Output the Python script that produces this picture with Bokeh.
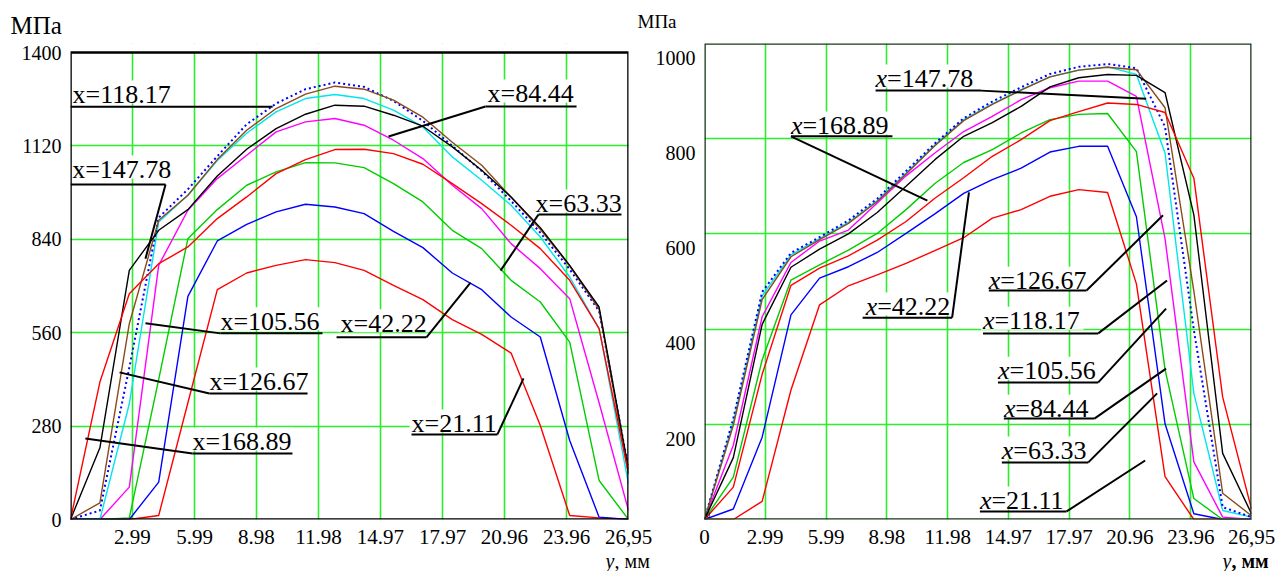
from bokeh.plotting import figure
from bokeh.models import Range1d, FixedTicker, Label
from bokeh.layouts import row, column
from bokeh.embed import file_html
from bokeh.resources import INLINE

# ---------------- data ----------------
y_mm = [0, 1.42, 2.84, 4.26, 5.67, 7.09, 8.51, 9.93, 11.35, 12.77,
        14.18, 15.6, 17.02, 18.44, 19.86, 21.28, 22.69, 24.11, 25.53, 26.95]

series = ["x=21.11", "x=42.22", "x=63.33", "x=84.44", "x=105.56",
          "x=118.17", "x=126.67", "x=147.78", "x=168.89"]
colors = ["#ff0000", "#0000ff", "#00cc00", "#ff00ff", "#00e5ee",
          "#0000ff", "#8b4a1a", "#000000", "#ff0000"]
dashes = ["solid", "solid", "solid", "solid", "solid", "2 3", "solid", "solid", "solid"]

# left panel (MPa)
L_21 = [0, 0, 0, 12, 350, 689, 739, 762, 779, 770, 747, 702, 659, 599, 555, 499, 282, 12, 5, 0]
L_42 = [0, 0, 0, 112, 669, 835, 885, 922, 945, 937, 917, 864, 815, 739, 689, 607, 547, 237, 7, 0]
L_63 = [0, 0, 5, 420, 842, 929, 1002, 1042, 1070, 1069, 1055, 1007, 952, 867, 812, 717, 652, 532, 117, 0]
L_84 = [0, 0, 97, 762, 927, 1022, 1092, 1162, 1192, 1202, 1182, 1137, 1082, 1002, 932, 827, 752, 662, 350, 27]
L_105 = [0, 0, 347, 892, 972, 1076, 1158, 1222, 1262, 1274, 1262, 1227, 1177, 1087, 1017, 942, 847, 727, 572, 107]
L_118 = [0, 27, 455, 905, 990, 1089, 1185, 1247, 1290, 1310, 1297, 1255, 1195, 1120, 1045, 955, 860, 750, 625, 152]
L_126 = [0, 50, 587, 897, 972, 1079, 1167, 1232, 1275, 1299, 1290, 1257, 1206, 1131, 1062, 966, 870, 760, 630, 137]
L_147 = [0, 215, 747, 867, 929, 1030, 1110, 1172, 1215, 1242, 1239, 1212, 1179, 1117, 1047, 967, 875, 762, 637, 150]
L_168 = [0, 412, 677, 767, 817, 902, 967, 1037, 1079, 1109, 1110, 1097, 1065, 1007, 947, 882, 812, 717, 572, 137]
left_vals = [L_21, L_42, L_63, L_84, L_105, L_118, L_126, L_147, L_168]

# right panel (MPa)
R_21 = [0, 0, 38, 272, 451, 491, 514, 538, 565, 592, 633, 651, 679, 693, 687, 495, 90, 0, 0, 0]
R_42 = [0, 22, 173, 430, 507, 531, 561, 601, 642, 685, 714, 738, 772, 784, 784, 636, 201, 12, 0, 0]
R_63 = [0, 89, 335, 503, 535, 566, 601, 651, 706, 750, 777, 812, 840, 851, 853, 773, 315, 44, 0, 0]
R_84 = [0, 156, 426, 540, 585, 608, 665, 722, 770, 815, 847, 882, 907, 921, 921, 889, 590, 121, 5, 0]
R_105 = [0, 205, 470, 556, 590, 624, 670, 728, 787, 840, 873, 903, 930, 944, 951, 935, 770, 265, 19, 5]
R_118 = [0, 212, 478, 560, 593, 628, 674, 732, 790, 843, 878, 908, 936, 951, 957, 948, 825, 398, 26, 5]
R_126 = [0, 198, 462, 552, 588, 622, 668, 726, 785, 838, 872, 902, 930, 944, 950, 945, 865, 480, 55, 8]
R_147 = [0, 130, 410, 530, 568, 600, 645, 700, 756, 805, 834, 868, 909, 928, 935, 933, 897, 640, 139, 12]
R_168 = [0, 68, 305, 492, 528, 554, 587, 626, 675, 718, 763, 798, 838, 857, 875, 872, 855, 717, 257, 22]
right_vals = [R_21, R_42, R_63, R_84, R_105, R_118, R_126, R_147, R_168]

xtick_left = ["2.99", "5.99", "8.98", "11.98", "14.97", "17.97", "20.96", "23.96", "26,95"]
xtick_right = ["0"] + xtick_left
ytick_left = ["0", "280", "560", "840", "1120", "1400"]
ytick_right = ["200", "400", "600", "800", "1000"]
ygrid_left = [280, 560, 840, 1120]
ygrid_right = [200, 400, 600, 800]

unit_label = "МПа"
axis_label_y = "y"
axis_label_rest = ", мм"

# annotation layout: text, text x, baseline y, underline x0, x1, y, leader (x0, y0, x1, y1)
notes_left = [
    ("x=118.17", 0.10, 1253, 0.0, 9.76, 1237, None),
    ("x=147.78", 0.08, 1028, 0.0, 4.59, 1004, (4.59, 1004, 3.62, 782)),
    ("x=84.44", 20.14, 1256, 20.04, 24.44, 1238, (20.04, 1238, 15.36, 1148)),
    ("x=63.33", 22.46, 926, 22.60, 26.61, 914, (22.60, 914, 20.77, 746)),
    ("x=105.56", 7.24, 573, 7.24, 12.17, 558, (7.24, 558, 3.62, 588)),
    ("x=126.67", 6.71, 393, 6.71, 11.45, 378, (6.71, 378, 2.37, 441)),
    ("x=168.89", 5.89, 213, 5.89, 10.72, 198, (5.89, 198, 0.72, 243)),
    ("x=42.22", 13.04, 567, 12.85, 17.19, 546, (17.19, 546, 19.32, 710)),
    ("x=21.11", 16.47, 267, 16.47, 20.62, 255, (20.62, 255, 21.88, 423)),
]
notes_right = [
    ("x=147.78", 8.43, 912, 8.43, 13.62, 901, (13.62, 901, 21.76, 884)),
    ("x=168.89", 4.26, 813, 4.26, 9.26, 805, (4.26, 805, 10.98, 670)),
    ("x=42.22", 7.94, 433, 7.79, 12.20, 424, (12.20, 424, 13.03, 687)),
    ("x=126.67", 14.01, 487, 14.01, 18.82, 481, (18.82, 481, 22.59, 639)),
    ("x=118.17", 13.72, 403, 13.72, 19.40, 391, (19.40, 391, 22.79, 502)),
    ("x=105.56", 14.46, 298, 14.46, 19.40, 288, (19.40, 288, 22.74, 443)),
    ("x=84.44", 14.75, 218, 14.75, 19.21, 212, (19.21, 212, 22.74, 317)),
    ("x=63.33", 14.65, 130, 14.65, 18.91, 120, (18.91, 120, 22.30, 265)),
    ("x=21.11", 13.57, 25, 13.57, 17.84, 17, (17.84, 17, 21.71, 124)),
]

# ---------------- styling / helpers ----------------
SERIF = "Liberation Serif"
GRID = "#2bef2b"
NOTE_FS = 26
BASE_FIX = 0.28         # em: the svg text sits this much lower than the asked baseline
CW = {".": 0.25, "=": 0.564, ",": 0.25}
PAGE_W = 1288
TOP_H, MAIN_H, BOT_H = 40, 508, 23
W1 = 652
W2 = PAGE_W - W1
FRAME_TOP = 43          # page y of the common frame top
FRAME_BOT = 519         # page y of the common frame bottom


def text_width(s, fs):
    return sum(CW.get(c, 0.5) for c in s) * fs


def make_panel(width, left_px, frame_w, ymax, ytop_px, vals, xtick_txt,
               ytick_txt, ytick_shift, ygrid, notes, italic_x, outline):
    sy = ymax / (FRAME_BOT - ytop_px)      # data units per pixel (y)
    sx = 26.95 / frame_w                   # data units per pixel (x)
    yend = ymax + (ytop_px - FRAME_TOP) * sy
    bl = left_px
    br = width - left_px - frame_w
    bt = FRAME_TOP - TOP_H
    bb = TOP_H + MAIN_H - FRAME_BOT
    p = figure(width=width, height=MAIN_H, x_range=Range1d(0, 26.95), y_range=Range1d(0, yend),
               output_backend="svg", toolbar_location=None,
               min_border_left=bl, min_border_right=br, min_border_top=bt, min_border_bottom=bb)
    p.background_fill_color = "white"
    p.border_fill_color = "white"
    p.outline_line_color = None

    xt = [float(s.replace(",", ".")) for s in xtick_txt]
    p.xaxis.ticker = FixedTicker(ticks=xt)
    p.xaxis.major_label_overrides = {v: s for v, s in zip(xt, xtick_txt)}
    yv = [float(s) for s in ytick_txt]
    ypos = [v - ytick_shift if v > 0 else v for v in yv]
    p.yaxis.ticker = FixedTicker(ticks=ypos)
    p.yaxis.major_label_overrides = {v: s for v, s in zip(ypos, ytick_txt)}
    for ax in (p.xaxis[0], p.yaxis[0]):
        ax.axis_line_color = None
        ax.major_tick_line_color = None
        ax.minor_tick_line_color = None
        ax.major_label_text_font = SERIF
        ax.major_label_text_color = "black"
    p.xaxis.major_label_text_font_size = "21px"
    p.yaxis.major_label_text_font_size = "20px"
    p.xaxis.major_label_standoff = 4
    p.yaxis.major_label_standoff = 3
    p.xgrid.ticker = FixedTicker(ticks=[v for v in xt if 0 < v < 26.95])
    p.ygrid.ticker = FixedTicker(ticks=ygrid)
    p.grid.grid_line_color = GRID
    p.grid.grid_line_width = 1.6

    # blank out the frame strip above the chart box (when the box is lower than the frame)
    if yend > ymax:
        p.quad(left=0, right=26.95, bottom=ymax, top=yend, fill_color="white", line_color=None)

    # white boxes behind annotation texts
    for (txt, tx, ty, ux0, ux1, uy, lead) in notes:
        w = text_width(txt, NOTE_FS)
        p.quad(left=tx - 2 * sx, right=tx + (w + 2) * sx, bottom=ty - 2 * sy,
               top=ty + 21 * sy, fill_color="white", line_color=None)

    for v, c, d in zip(vals, colors, dashes):
        p.line(y_mm, v, line_color=c, line_width=1.4 if d == "solid" else 2.0, line_dash=d)

    # chart box
    p.line([0, 26.95, 26.95, 0, 0], [0, 0, ymax, ymax, 0], line_color=outline, line_width=2.6)

    fix = BASE_FIX * NOTE_FS * sy
    for (txt, tx, ty, ux0, ux1, uy, lead) in notes:
        p.line([ux0, ux1], [uy, uy], line_color="black", line_width=2)
        if lead is not None:
            p.line([lead[0], lead[2]], [lead[1], lead[3]], line_color="black", line_width=2)
        if italic_x:
            p.add_layout(Label(x=tx, y=ty + fix, text=txt[0], text_font=SERIF,
                               text_font_style="italic", text_font_size=f"{NOTE_FS}px",
                               text_baseline="alphabetic", text_color="black"))
            p.add_layout(Label(x=tx + 0.444 * NOTE_FS * sx, y=ty + fix, text=txt[1:],
                               text_font=SERIF, text_font_size=f"{NOTE_FS}px",
                               text_baseline="alphabetic", text_color="black"))
        else:
            p.add_layout(Label(x=tx, y=ty + fix, text=txt, text_font=SERIF,
                               text_font_size=f"{NOTE_FS}px", text_baseline="alphabetic",
                               text_color="black"))
    return p, sx, sy


def strip(height):
    s = figure(width=PAGE_W, height=height, x_range=Range1d(0, PAGE_W),
               y_range=Range1d(0, height), x_axis_type=None, y_axis_type=None,
               output_backend="svg", toolbar_location=None,
               min_border_left=0, min_border_right=0, min_border_top=0, min_border_bottom=0)
    s.outline_line_color = None
    s.grid.visible = False
    s.background_fill_color = "white"
    s.border_fill_color = "white"
    return s


def strip_label(s, y_top, x, page_y, text, size_px, style="normal"):
    h = s.height
    s.add_layout(Label(x=x, y=h - (page_y - y_top) + BASE_FIX * size_px, text=text,
                       text_font=SERIF, text_font_style=style, text_font_size=f"{size_px}px",
                       text_baseline="alphabetic", text_color="black"))


p1, sx1, sy1 = make_panel(W1, 70, 558, 1400, 52, left_vals, xtick_left, ytick_left, 0,
                          ygrid_left, notes_left, False, "black")
p2, sx2, sy2 = make_panel(W2, 701 - W1, 550, 1000, 43, right_vals, xtick_right, ytick_right, 30,
                          ygrid_right, notes_right, True, "#183818")
p2.add_layout(Label(x=0.08, y=3, text="0", text_font=SERIF, text_font_size="8px",
                    text_align="left", text_baseline="bottom", text_color="black"))

top = strip(TOP_H)
strip_label(top, 0, 10, 31.5, unit_label, 25)
strip_label(top, 0, 637, 26.5, unit_label, 19)

bot = strip(BOT_H)
BOT_TOP = TOP_H + MAIN_H
for (x0, weight) in ((605, "normal"), (1222, "bold")):
    strip_label(bot, BOT_TOP, x0, 566, axis_label_y, 20, "italic")
    strip_label(bot, BOT_TOP, x0 + 9, 566, axis_label_rest, 20, weight)

layout = column(top, row(p1, p2), bot)
open("out.html", "w").write(file_html(layout, INLINE))
